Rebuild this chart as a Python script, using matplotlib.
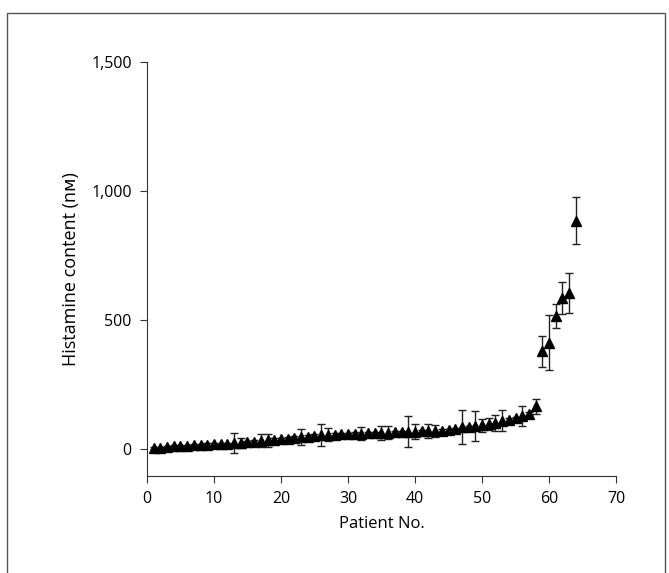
import numpy as np
import matplotlib.pyplot as plt
from matplotlib.patches import Rectangle
from matplotlib.ticker import FuncFormatter

plt.rcParams["font.family"] = ["Open Sans", "DejaVu Sans"]

# histamine content per patient (nM), sorted ascending, with SEM
patients = list(range(1, 65))
histamine = [
    2, 5, 8, 10, 12, 13, 15, 16, 17, 18,
    19, 20, 22, 24, 26, 28, 31, 34, 36, 38,
    40, 43, 46, 48, 50, 54, 55, 55, 56, 57,
    58, 59, 60, 61, 62, 63, 64, 65, 67, 67,
    68, 69, 70, 71, 73, 76, 84, 84, 88, 92,
    96, 100, 110, 112, 118, 128, 136, 165, 378, 412,
    515, 585, 605, 885,
]
sem = [
    4, 4, 4, 4, 4, 4, 4, 4, 4, 4,
    4, 4, 38, 20, 6, 6, 25, 25, 6, 6,
    6, 6, 30, 6, 6, 42, 26, 6, 6, 6,
    6, 25, 6, 6, 27, 26, 6, 6, 60, 30,
    6, 26, 24, 6, 6, 6, 65, 6, 58, 25,
    22, 30, 40, 6, 6, 40, 6, 28, 60, 108,
    45, 62, 78, 90,
]

fig = plt.figure(figsize=(6.69, 5.73), dpi=100)
ax = fig.add_axes([0.2197, 0.1693, 0.7011, 0.7225])

ax.errorbar(patients, histamine, yerr=sem, fmt="^", color="black",
            markersize=7.5, ecolor="#222222", elinewidth=1.0,
            capsize=3, capthick=1.0, zorder=3)

ax.set_xlim(0, 70)
ax.set_ylim(-105, 1500)
ax.set_xticks(range(0, 71, 10))
ax.set_yticks([0, 500, 1000, 1500])
ax.yaxis.set_major_formatter(FuncFormatter(lambda v, p: f"{int(v):,}"))

for side in ("top", "right"):
    ax.spines[side].set_visible(False)
for side in ("left", "bottom"):
    ax.spines[side].set_linewidth(0.8)
    ax.spines[side].set_color("#333333")

ax.tick_params(axis="both", direction="out", length=5, width=0.8,
               color="#333333", labelsize=11.5, pad=6)

ax.set_xlabel("Patient No.", fontsize=12, labelpad=6)
ax.set_ylabel("Histamine content (nᴍ)", fontsize=13, labelpad=8)

# scanned figure frame
fig.patches.append(Rectangle((0.0105, -0.02), 0.9836, 0.997,
                             transform=fig.transFigure, fill=False,
                             edgecolor="#555555", linewidth=1.0))

fig.savefig("out.png", dpi=100)
